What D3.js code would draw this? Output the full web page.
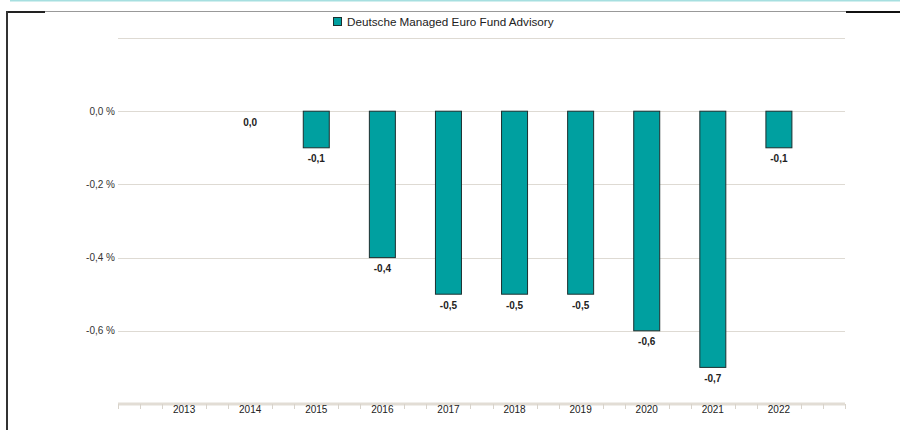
<!DOCTYPE html>
<html>
<head>
<meta charset="utf-8">
<script src="https://cdn.jsdelivr.net/npm/d3@7"></script>
<style>
    body { margin: 0; background: #fff; }
    svg { display: block; font-family: "Liberation Sans", Arial, sans-serif; }
</style>
</head>
<body>
<svg id="chart" width="900" height="430"></svg>
<script>
// 数据
let years = [2013, 2014, 2015, 2016, 2017, 2018, 2019, 2020, 2021, 2022];
let values = [null, 0.0, -0.1, -0.4, -0.5, -0.5, -0.5, -0.6, -0.7, -0.1];
let yTicks = [0.0, -0.2, -0.4, -0.6];
let seriesName = 'Deutsche Managed Euro Fund Advisory';

let svg = d3.select('#chart');
let W = 900, H = 430;
let plot = {left: 118, right: 845, top: 38, bottom: 404};
let barColor = '#00a0a0';

// 外框
svg.append('line').attr('x1', 10).attr('x2', W).attr('y1', 0.5).attr('y2', 0.5)
    .style('stroke', '#a6dfe0').style('stroke-width', 2);
svg.append('line').attr('x1', 45).attr('x2', 846).attr('y1', 11.5).attr('y2', 11.5)
    .style('stroke', '#999').style('stroke-width', 1);
svg.append('line').attr('x1', 6).attr('x2', 45).attr('y1', 12).attr('y2', 12)
    .style('stroke', '#222').style('stroke-width', 2);
svg.append('line').attr('x1', 846).attr('x2', W).attr('y1', 12).attr('y2', 12)
    .style('stroke', '#111').style('stroke-width', 2);
svg.append('line').attr('x1', 7).attr('x2', 7).attr('y1', 11).attr('y2', H)
    .style('stroke', '#333').style('stroke-width', 2);

// 比例尺
let x = d3.scaleLinear().domain([2012, 2023]).range([plot.left, plot.right]);
let y = d3.scaleLinear().domain([-0.8, 0.2]).range([plot.bottom, plot.top]);
let fmt = v => d3.format('.1f')(v).replace('.', ',').replace('−', '-');

// 网格线
let grid = svg.append('g');
grid.selectAll('line')
    .data([0.2].concat(yTicks))
    .enter()
    .append('line')
    .attr('x1', plot.left)
    .attr('x2', plot.right)
    .attr('y1', d => Math.round(y(d)) + 0.5)
    .attr('y2', d => Math.round(y(d)) + 0.5)
    .style('stroke', '#dedad3')
    .style('stroke-width', 1);

// y 轴标签
svg.append('g').selectAll('text')
    .data(yTicks)
    .enter()
    .append('text')
    .attr('x', 115)
    .attr('y', d => y(d))
    .attr('dy', '0.35em')
    .style('text-anchor', 'end')
    .style('font-size', '10px')
    .style('fill', '#333')
    .text(d => fmt(d) + ' %');

// x 轴
svg.append('line')
    .attr('x1', plot.left).attr('x2', plot.right)
    .attr('y1', plot.bottom).attr('y2', plot.bottom)
    .style('stroke', '#e2ddd5').style('stroke-width', 3);
let minor = d3.range(2012, 2023 + 0.001, 1 / 3).filter(v => {
    let r = Math.abs(v - Math.round(v));
    return r > 0.01 || Math.round(v) === 2012 || Math.round(v) === 2023;
});
svg.append('g').selectAll('line')
    .data(minor)
    .enter()
    .append('line')
    .attr('x1', d => Math.round(x(d)) + 0.5)
    .attr('x2', d => Math.round(x(d)) + 0.5)
    .attr('y1', plot.bottom)
    .attr('y2', plot.bottom + 5)
    .style('stroke', '#d8d3cb')
    .style('stroke-width', 1);
svg.append('g').selectAll('text')
    .data(years)
    .enter()
    .append('text')
    .attr('x', d => x(d))
    .attr('y', plot.bottom + 5.5)
    .attr('dy', '0.35em')
    .style('text-anchor', 'middle')
    .style('font-size', '10px')
    .style('fill', '#222')
    .text(d => d);

// 柱子
let data = years.map((d, i) => ({year: d, value: values[i]})).filter(d => d.value !== null);
let bw = 26;
svg.append('g').selectAll('rect')
    .data(data.filter(d => d.value !== 0))
    .enter()
    .append('rect')
    .attr('x', d => x(d.year) - bw / 2)
    .attr('y', y(0))
    .attr('width', bw)
    .attr('height', d => y(d.value) - y(0))
    .style('fill', barColor)
    .style('stroke', '#1c2f2f')
    .style('stroke-width', 1);

// 数值标签
svg.append('g').selectAll('text')
    .data(data)
    .enter()
    .append('text')
    .attr('x', d => x(d.year))
    .attr('y', d => y(d.value) + 11)
    .attr('dy', '0.35em')
    .style('text-anchor', 'middle')
    .style('font-size', '10px')
    .style('font-weight', 'bold')
    .style('fill', '#222')
    .text(d => fmt(d.value));

// 图例
let legend = svg.append('g').attr('transform', 'translate(333,17)');
legend.append('rect')
    .attr('x', 0.5).attr('y', 0.5)
    .attr('width', 8).attr('height', 8)
    .style('fill', barColor)
    .style('stroke', '#1c2f2f');
legend.append('text')
    .attr('x', 14)
    .attr('y', 5)
    .attr('dy', '0.35em')
    .style('font-size', '11.7px')
    .style('fill', '#222')
    .text(seriesName);
</script>
</body>
</html>
